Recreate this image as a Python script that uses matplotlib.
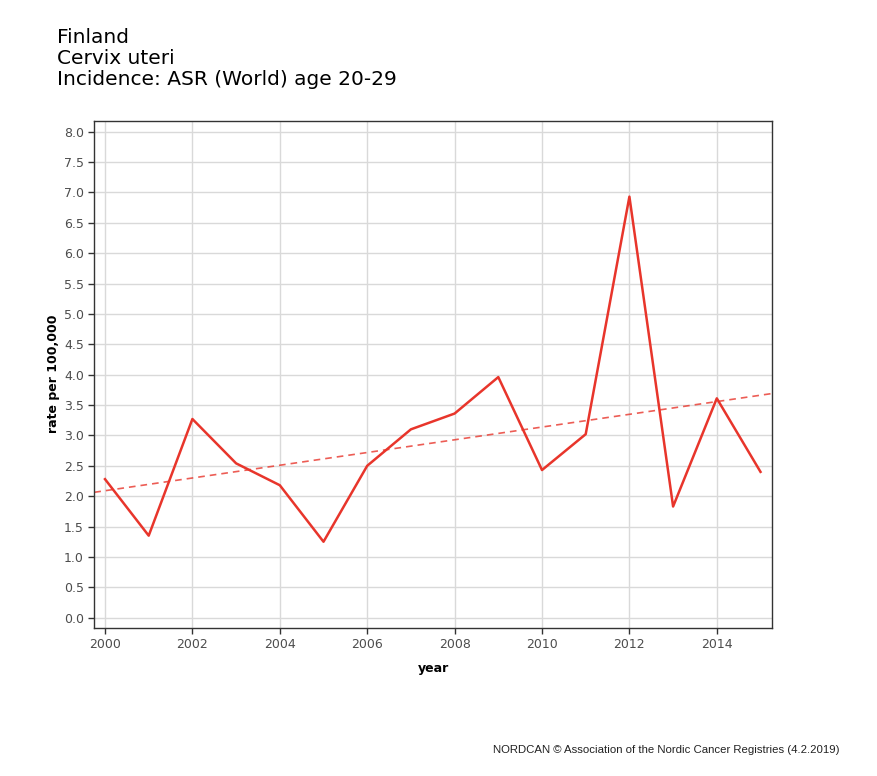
import numpy as np
import matplotlib
matplotlib.use("Agg")
import matplotlib.pyplot as plt

# Incidence of cervix uteri, Finland, age 20-29 (ASR World)
years = [2000, 2001, 2002, 2003, 2004, 2005, 2006, 2007,
         2008, 2009, 2010, 2011, 2012, 2013, 2014, 2015]
rates = [2.28, 1.35, 3.27, 2.54, 2.18, 1.25, 2.50, 3.10,
         3.36, 3.96, 2.43, 3.02, 6.93, 1.83, 3.61, 2.40]
xticks = [2000, 2002, 2004, 2006, 2008, 2010, 2012, 2014]
yticks = [0.0, 0.5, 1.0, 1.5, 2.0, 2.5, 3.0, 3.5, 4.0,
          4.5, 5.0, 5.5, 6.0, 6.5, 7.0, 7.5, 8.0]

fig = plt.figure(figsize=(8.78, 7.76), dpi=100)
ax = fig.add_axes([94.3 / 878, 1 - 627.7 / 776, (772.3 - 94.3) / 878, (627.7 - 120.7) / 776])

xlim = (1999.755, 2015.27)
ax.set_xlim(*xlim)
ax.set_ylim(-0.165, 8.18)

# linear trend fitted to the series
slope, icpt = np.polyfit(years, rates, 1)
tx = np.array(xlim)
ax.plot(tx, slope * tx + icpt, color='#e8352b', lw=1.2, ls=(0, (4, 3)), alpha=0.8)
ax.plot(years, rates, color='#e8352b', lw=1.8)

ax.set_xticks(xticks)
ax.set_yticks(yticks)
ax.set_yticklabels([f"{v:.1f}" for v in yticks])
ax.grid(True, color='#d9d9d9', lw=1.0)
ax.set_axisbelow(True)
ax.tick_params(colors='#333333', labelcolor='#4d4d4d', labelsize=9, length=4, width=1)
for s in ax.spines.values():
    s.set_color('#333333')
    s.set_linewidth(1.0)

ax.set_ylabel('rate per 100,000', fontsize=9, fontweight='bold', labelpad=3)
ax.set_xlabel('year', fontsize=9, fontweight='bold', labelpad=8)

fig.text(57 / 878, 1 - 28 / 776, 'Finland\nCervix uteri\nIncidence: ASR (World) age 20-29',
         fontsize=14.5, va='top', ha='left', linespacing=1.12)
fig.text(840 / 878, 1 - 750 / 776, 'NORDCAN \u00a9 Association of the Nordic Cancer Registries (4.2.2019)',
         fontsize=8.2, family='Liberation Sans', ha='right', va='center', color='#222222')

fig.savefig('out.png', dpi=100)
